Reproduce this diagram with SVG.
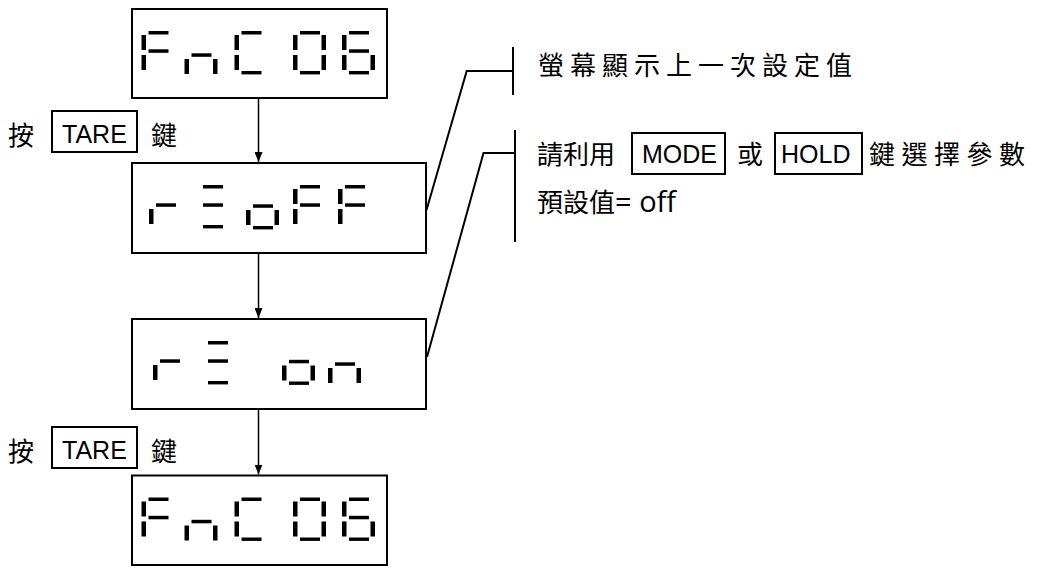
<svg xmlns="http://www.w3.org/2000/svg" width="1058" height="568" viewBox="0 0 1058 568">
<style>
.bg{fill:#fff}
.box{fill:#fff;stroke:#000;stroke-width:2}
.key{fill:none;stroke:#000;stroke-width:2}
.cjk{font-family:"Noto Sans CJK TC","Noto Sans CJK SC",sans-serif;font-size:26px;fill:#000}
.lat{font-family:"Liberation Sans",Arial,sans-serif;font-size:25px;fill:#000}
.alt{font-family:"Open Sans","Liberation Sans",sans-serif;font-size:29px;fill:#000}
.conn{fill:none;stroke:#000;stroke-width:2}
.arrow{fill:none;stroke:#000;stroke-width:1.5;marker-end:url(#ah)}
.seg{fill:#000}
</style>
<defs>
<marker id="ah" markerUnits="userSpaceOnUse" markerWidth="10" markerHeight="8" refX="10" refY="4" orient="auto"><path d="M0,0 L10,4 L0,8 z" fill="#000"/></marker>
<rect id="sa" class="seg" x="7" y="0" width="20" height="3.5"/>
<rect id="sb" class="seg" x="28.5" y="4" width="4.5" height="15"/>
<rect id="sc" class="seg" x="28.5" y="24" width="4.5" height="15"/>
<rect id="sd" class="seg" x="7" y="40" width="20" height="3.4"/>
<rect id="se" class="seg" x="0" y="24" width="4.5" height="15"/>
<rect id="sf" class="seg" x="0" y="4" width="4.5" height="15"/>
<rect id="sg" class="seg" x="7" y="18.3" width="20" height="3.5"/>
</defs>
<rect class="bg" x="0" y="0" width="1058" height="568"/>

<g id="connectors">
<line class="arrow" x1="258.5" y1="98" x2="258.5" y2="162"/>
<line class="arrow" x1="258.5" y1="253" x2="258.5" y2="318"/>
<line class="arrow" x1="258.5" y1="409" x2="258.5" y2="474.5"/>
<polyline class="conn" points="426.5,210 466.7,71 513,71"/>
<line class="conn" x1="513" y1="47" x2="513" y2="95"/>
<polyline class="conn" points="427,357 483.5,153 515,153"/>
<line class="conn" x1="515" y1="130" x2="515" y2="242"/>
</g>

<g id="node-fnc06-start" aria-label="FnC 06">
<rect class="box" x="132" y="9" width="255" height="89"/>
<g transform="translate(141.5,31)"><use href="#sa"/><use href="#sf"/><use href="#sg"/><use href="#se"/></g>
<g transform="translate(184.5,35)"><use href="#sg"/><use href="#se"/><use href="#sc"/></g>
<g transform="translate(234.5,31)"><use href="#sa"/><use href="#sf"/><use href="#se"/><use href="#sd"/></g>
<g transform="translate(293,31)"><use href="#sa"/><use href="#sb"/><use href="#sc"/><use href="#sd"/><use href="#se"/><use href="#sf"/></g>
<g transform="translate(342,31)"><use href="#sa"/><use href="#sf"/><use href="#sg"/><use href="#se"/><use href="#sc"/><use href="#sd"/></g>
</g>

<g id="node-r-off" aria-label="r=oFF">
<rect class="box" x="132" y="163" width="294" height="90"/>
<g transform="translate(149,185)"><use href="#sg"/><use href="#se"/></g>
<g transform="translate(196,185)"><use href="#sa"/><use href="#sg"/><use href="#sd"/></g>
<g transform="translate(246,186)"><use href="#sg"/><use href="#sc"/><use href="#sd"/><use href="#se"/></g>
<g transform="translate(293,185)"><use href="#sa"/><use href="#sf"/><use href="#sg"/><use href="#se"/></g>
<g transform="translate(338,185)"><use href="#sa"/><use href="#sf"/><use href="#sg"/><use href="#se"/></g>
</g>

<g id="node-r-on" aria-label="r= on">
<rect class="box" x="132" y="319" width="294" height="90"/>
<g transform="translate(153,341)"><use href="#sg"/><use href="#se"/></g>
<g transform="translate(201,341)"><use href="#sa"/><use href="#sg"/><use href="#sd"/></g>
<g transform="translate(282,341.5)"><use href="#sg"/><use href="#sc"/><use href="#sd"/><use href="#se"/></g>
<g transform="translate(328,344)"><use href="#sg"/><use href="#se"/><use href="#sc"/></g>
</g>

<g id="node-fnc06-end" aria-label="FnC 06">
<rect class="box" x="132" y="475.5" width="255" height="89.5"/>
<g transform="translate(141.5,497.5)"><use href="#sa"/><use href="#sf"/><use href="#sg"/><use href="#se"/></g>
<g transform="translate(184.5,501.5)"><use href="#sg"/><use href="#se"/><use href="#sc"/></g>
<g transform="translate(234.5,497.5)"><use href="#sa"/><use href="#sf"/><use href="#se"/><use href="#sd"/></g>
<g transform="translate(293,497.5)"><use href="#sa"/><use href="#sb"/><use href="#sc"/><use href="#sd"/><use href="#se"/><use href="#sf"/></g>
<g transform="translate(342,497.5)"><use href="#sa"/><use href="#sf"/><use href="#sg"/><use href="#se"/><use href="#sc"/><use href="#sd"/></g>
</g>

<g id="label-tare-1">
<text class="cjk" x="8" y="145">按</text>
<rect class="key" x="52" y="111" width="85" height="41"/>
<text class="lat" x="62" y="143">TARE</text>
<text class="cjk" x="151" y="145">鍵</text>
</g>

<g id="label-tare-2">
<text class="cjk" x="8" y="461">按</text>
<rect class="key" x="52" y="427" width="85" height="41"/>
<text class="lat" x="62" y="459">TARE</text>
<text class="cjk" x="151" y="461">鍵</text>
</g>

<g id="note-1">
<text class="cjk" x="538" y="75" letter-spacing="6">螢幕顯示上一次設定值</text>
</g>

<g id="note-2">
<text class="cjk" x="537" y="164">請利用</text>
<rect class="key" x="632" y="133" width="93" height="41"/>
<text class="lat" x="642" y="163">MODE</text>
<text class="cjk" x="737" y="164">或</text>
<rect class="key" x="775" y="133" width="87" height="41"/>
<text class="lat" x="781" y="163">HOLD</text>
<text class="cjk" x="869" y="164" letter-spacing="6.5">鍵選擇參數</text>
<text x="537" y="212"><tspan class="cjk">預設值</tspan><tspan class="alt">= off</tspan></text>
</g>
</svg>
